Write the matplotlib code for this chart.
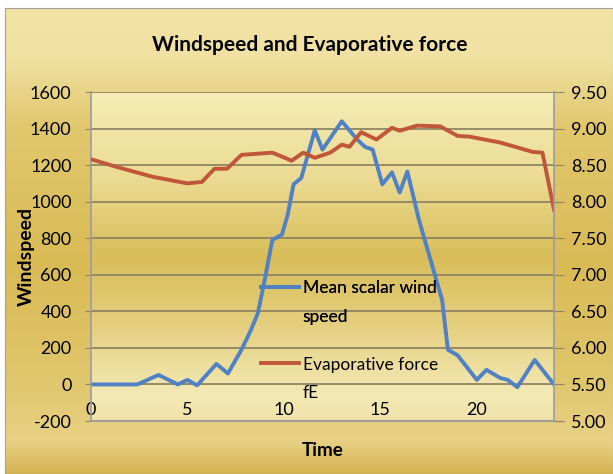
import numpy as np
import matplotlib.pyplot as plt
from matplotlib.lines import Line2D
from matplotlib.colors import LinearSegmentedColormap

# data
time_wind = [0, 2.4, 3.5, 4.5, 5.0, 5.5, 6.5, 7.1, 7.8, 8.3, 8.65, 9.0, 9.4, 9.9,
             10.2, 10.5, 10.9, 11.6, 12.0, 13.0, 13.8, 14.2, 14.6, 15.1, 15.6,
             16.0, 16.4, 17.0, 18.2, 18.5, 19.0, 20.0, 20.5, 21.2, 21.6, 22.1,
             23.0, 24.0]
wind_speed = [0, 0, 52, 0, 25, -5, 112, 60, 190, 300, 390, 570, 790, 820,
              930, 1095, 1130, 1390, 1285, 1440, 1340, 1300, 1285, 1095, 1160,
              1050, 1165, 900, 463, 190, 160, 25, 80, 36, 25, -15,
              134, 0]

time_fe = [0, 1.4, 3.2, 5.0, 5.75, 6.4, 7.05, 7.8, 8.85, 9.4, 10.05, 10.4,
           11.0, 11.6, 12.4, 13.0, 13.4, 14.0, 14.8, 15.6, 16.0, 16.9, 18.1,
           19.0, 19.6, 21.2, 22.9, 23.4, 24.0]
evap_force = [8.58, 8.47, 8.34, 8.25, 8.27, 8.45, 8.45, 8.64, 8.66, 8.67, 8.60,
              8.56, 8.67, 8.60, 8.67, 8.78, 8.75, 8.95, 8.85, 9.01, 8.97, 9.04,
              9.03, 8.90, 8.89, 8.81, 8.68, 8.67, 7.89]

left_ticks = [-200, 0, 200, 400, 600, 800, 1000, 1200, 1400, 1600]
right_ticks = [5.0, 5.5, 6.0, 6.5, 7.0, 7.5, 8.0, 8.5, 9.0, 9.5]
x_ticks = [0, 5, 10, 15, 20]

blue = '#4f81c4'
red = '#c0563a'
grid_col = '#8f8464'
plt.rcParams['font.family'] = ['Lato', 'DejaVu Sans']
plt.rcParams['axes.unicode_minus'] = False

fig = plt.figure(figsize=(6.13, 4.74), dpi=100, facecolor='white')

# gold backdrop of the chart
bg = fig.add_axes([5 / 613, 0, 1 - 5 / 613, 1 - 8 / 474], zorder=-10)
bg_cmap = LinearSegmentedColormap.from_list('bg', [
    (0.0, '#d4b352'), (0.07, '#e8d185'), (0.2, '#e0c66c'),
    (0.45, '#d9bb55'), (0.75, '#e1c86e'), (0.9, '#f1e2a4'), (1.0, '#f3e4a6')])
bg.imshow(np.linspace(0, 1, 256).reshape(-1, 1), cmap=bg_cmap, origin='lower',
          aspect='auto', extent=(0, 1, 0, 1))
bg.set_xticks([])
bg.set_yticks([])
for s in bg.spines.values():
    s.set_color('#a0a0a0')

ax = fig.add_axes([91 / 613, 1 - 421 / 474, (554 - 91) / 613, (421 - 92) / 474])
ax.patch.set_alpha(0)
pa_cmap = LinearSegmentedColormap.from_list('pa', [
    (0.0, '#efe3aa'), (0.08, '#f3e9b4'), (0.3, '#e4ce7c'),
    (0.5, '#d8bd58'), (0.75, '#ecdc95'), (1.0, '#f5ecb6')])
ax.imshow(np.linspace(0, 1, 256).reshape(-1, 1), cmap=pa_cmap, origin='lower',
          aspect='auto', extent=(0, 1, 0, 1), transform=ax.transAxes, zorder=-1)

ax.plot(time_wind, wind_speed, color=blue, lw=2.8, solid_joinstyle='round')
ax.set_xlim(0, 24)
ax.set_ylim(-200, 1600)
ax.set_yticks(left_ticks)
ax.set_xticks(x_ticks)
ax.set_axisbelow(True)
ax.yaxis.grid(True, color=grid_col, lw=1.3)
ax.tick_params(axis='y', length=4, color=grid_col, labelsize=13, pad=10)
ax.tick_params(axis='x', length=0, labelsize=13, pad=-2)
for lbl in ax.get_xticklabels():
    lbl.set_verticalalignment('bottom')
for side in ['top', 'right']:
    ax.spines[side].set_visible(False)
for side in ['left', 'bottom']:
    ax.spines[side].set_color('#9a9aa8')
    ax.spines[side].set_linewidth(1.2)

ax2 = ax.twinx()
ax2.plot(time_fe, evap_force, color=red, lw=2.8, solid_joinstyle='round')
ax2.set_ylim(5.0, 9.5)
ax2.set_yticks(right_ticks)
ax2.set_yticklabels([f'{v:.2f}' for v in right_ticks])
ax2.tick_params(axis='y', length=7, color=grid_col, labelsize=13, pad=5)
for side in ['top', 'left', 'bottom']:
    ax2.spines[side].set_visible(False)
ax2.spines['right'].set_color('#9a9aa8')
ax2.spines['right'].set_linewidth(1.2)

# legend, text wrapped like the original
blank = Line2D([], [], color='none')
leg1 = ax.legend([Line2D([], [], color=blue, lw=2.8), blank],
                 ['Mean scalar wind', 'speed'], frameon=False, fontsize=12.5,
                 loc='upper left', bbox_to_anchor=(0.367, 0.429),
                 handlelength=2.2, handletextpad=0.2, labelspacing=0.75,
                 borderpad=0, borderaxespad=0)
ax.add_artist(leg1)
ax2.legend([Line2D([], [], color=red, lw=2.8), blank],
           ['Evaporative force', 'fE'], frameon=False, fontsize=12.5,
           loc='upper left', bbox_to_anchor=(0.367, 0.196),
           handlelength=2.2, handletextpad=0.2, labelspacing=0.7,
           borderpad=0, borderaxespad=0)

ax.set_ylabel('Windspeed', fontsize=14, fontweight='bold')
ax.yaxis.set_label_coords(-0.122, 0.5)
ax.set_xlabel('Time', fontsize=13.5, fontweight='bold')
ax.xaxis.set_label_coords(0.5, -0.065)
fig.text(310 / 613, 1 - 45 / 474, 'Windspeed and Evaporative force',
         ha='center', va='center', fontsize=15, fontweight='bold')

fig.savefig('out.png', dpi=100)
